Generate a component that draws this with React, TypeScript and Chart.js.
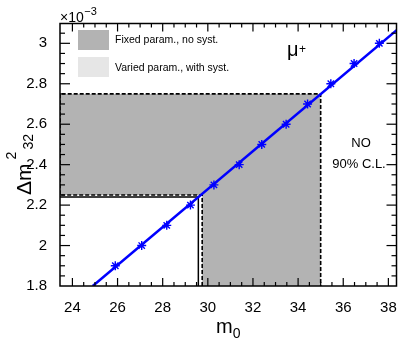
import React, { useEffect, useRef } from 'react';
import { Chart, registerables } from 'chart.js';

Chart.register(...registerables);

// ---- data (Δm² in units of 10^-3) ----
const m0Points = [25.9, 27.07, 28.18, 29.23, 30.27, 31.39, 32.39, 33.47, 34.42, 35.45, 36.48, 37.6];
const dm2Points = [1.9, 2.0, 2.1, 2.2, 2.3, 2.4, 2.5, 2.6, 2.7, 2.8, 2.9, 3.0];
const fitM0 = [24.9, 38.5];
const fitDm2 = [1.8, 3.078];

const xTickValues = [24, 26, 28, 30, 32, 34, 36, 38];
const xTickLabels = ['24', '26', '28', '30', '32', '34', '36', '38'];
const yTickValues = [1.8, 2.0, 2.2, 2.4, 2.6, 2.8, 3.0];
const yTickLabels = ['1.8', '2', '2.2', '2.4', '2.6', '2.8', '3'];
const xRange = [23.45, 38.36];
const yRange = [1.8, 3.098];

// Fixed param., no syst. (filled, dashed outline)
const fixedFillM0 = [23.45, 29.75, 29.75, 35.0];
const fixedFillLowDm2 = [2.25, 2.25, 1.8, 1.8];
const fixedFillTopDm2 = 2.75;
const fixedContourM0 = [29.75, 29.75, 23.45, 23.45, 35.0, 35.0];
const fixedContourDm2 = [1.8, 2.25, 2.25, 2.75, 2.75, 1.8];
// Varied param., with syst. (solid outline)
const variedContourM0 = [29.58, 29.58, 23.45];
const variedContourDm2 = [1.8, 2.24, 2.24];

const legendLabels = ['Fixed param., no syst.', 'Varied param., with syst.'];
const legendColors = ['#b3b3b3', '#e6e6e6'];

const FONT = '"Liberation Sans", Arial, Helvetica, sans-serif';

const zip = (xs: number[], ys: number[]) => xs.map((x, i) => ({ x, y: ys[i] }));

const decorPlugin = {
  id: 'decor',
  afterDatasetsDraw(chart: any) {
    const { ctx, chartArea: a, scales } = chart;
    const x = scales.x;
    const y = scales.y;
    ctx.save();
    ctx.strokeStyle = '#000';
    ctx.lineWidth = 1.2;
    const seg = (x1: number, y1: number, x2: number, y2: number) => {
      ctx.beginPath();
      ctx.moveTo(x1, y1);
      ctx.lineTo(x2, y2);
      ctx.stroke();
    };
    // x ticks
    for (let v = 23.5; v <= xRange[1] + 1e-9; v += 0.5) {
      const px = x.getPixelForValue(v);
      if (px < a.left + 2 || px > a.right - 2) continue;
      const major = Math.abs(v / 2 - Math.round(v / 2)) < 1e-6;
      const len = major ? 8 : 4;
      seg(px, a.bottom, px, a.bottom - len);
      seg(px, a.top, px, a.top + len);
    }
    // y ticks
    for (let i = 0; i <= 30; i++) {
      const v = 1.8 + i * 0.05;
      const py = y.getPixelForValue(v);
      if (py < a.top + 2 || py > a.bottom - 2) continue;
      const major = i % 4 === 0;
      const len = major ? 10 : 5;
      seg(a.left, py, a.left + len, py);
      seg(a.right, py, a.right - len, py);
    }
    ctx.lineWidth = 1.5;
    ctx.strokeRect(a.left, a.top, a.right - a.left, a.bottom - a.top);
    ctx.restore();
  },
  afterDraw(chart: any) {
    const { ctx, chartArea: a } = chart;
    ctx.save();
    ctx.fillStyle = '#000';
    ctx.textBaseline = 'alphabetic';
    ctx.textAlign = 'left';

    // exponent label
    ctx.font = `14px ${FONT}`;
    ctx.fillText('\u00d710', a.left, 22);
    const w10 = ctx.measureText('\u00d710').width;
    ctx.font = `11px ${FONT}`;
    ctx.fillText('\u22123', a.left + w10 + 0.5, 15);

    // legend
    legendLabels.forEach((lab, i) => {
      ctx.fillStyle = legendColors[i];
      ctx.fillRect(78, 30 + i * 27, 31, 20);
      ctx.fillStyle = '#000';
      ctx.font = `10.5px ${FONT}`;
      ctx.fillText(lab, 115, 42.5 + i * 28);
    });

    // mu+
    ctx.font = `20px ${FONT}`;
    ctx.fillText('\u03bc', 287, 56);
    ctx.font = `12px ${FONT}`;
    ctx.fillText('+', 299, 53);

    // NO / 90% C.L.
    ctx.textAlign = 'center';
    ctx.font = `13px ${FONT}`;
    ctx.fillText('NO', 361, 147);
    ctx.fillText('90% C.L.', 359, 168);

    // x title m0
    ctx.textAlign = 'left';
    ctx.font = `20px ${FONT}`;
    ctx.fillText('m', 216, 333);
    const wm = ctx.measureText('m').width;
    ctx.font = `14px ${FONT}`;
    ctx.fillText('0', 216 + wm, 338);

    // y title Δm²₃₂
    ctx.translate(31, 195);
    ctx.rotate(-Math.PI / 2);
    ctx.font = `21px ${FONT}`;
    ctx.fillText('\u0394m', 0, 0);
    const wd = ctx.measureText('\u0394m').width;
    ctx.font = `14px ${FONT}`;
    ctx.fillText('2', wd + 4, -15);
    ctx.fillText('32', wd + 14, 2);
    ctx.restore();
  },
};

export default function App() {
  const ref = useRef<HTMLCanvasElement>(null);
  useEffect(() => {
    const canvas = ref.current;
    if (!canvas) return;
    const chart = new Chart(canvas, {
      type: 'line',
      data: {
        datasets: [
          {
            label: 'fit',
            data: zip(fitM0, fitDm2),
            borderColor: '#0000ff',
            borderWidth: 2.5,
            pointRadius: 0,
            fill: false,
            order: 0,
          },
          {
            label: 'points',
            data: zip(m0Points, dm2Points),
            showLine: false,
            pointStyle: 'star',
            pointRadius: 4.5,
            pointBorderColor: '#0000ff',
            pointBackgroundColor: '#0000ff',
            pointBorderWidth: 1.4,
            order: 0,
          },
          {
            label: 'varied',
            data: zip(variedContourM0, variedContourDm2),
            borderColor: '#000',
            borderWidth: 1.5,
            pointRadius: 0,
            fill: false,
            order: 1,
          },
          {
            label: 'fixedBorder',
            data: zip(fixedContourM0, fixedContourDm2),
            borderColor: '#000',
            borderWidth: 1.6,
            borderDash: [4, 2],
            pointRadius: 0,
            fill: false,
            order: 1,
          },
          {
            label: 'fixedFill',
            data: zip(fixedFillM0, fixedFillLowDm2),
            borderWidth: 0,
            borderColor: 'rgba(0,0,0,0)',
            backgroundColor: legendColors[0],
            pointRadius: 0,
            fill: { value: fixedFillTopDm2 },
            order: 2,
          },
        ],
      },
      options: {
        animation: false,
        responsive: false,
        maintainAspectRatio: false,
        layout: { autoPadding: false, padding: { top: 23.5, right: 1.5, left: 0, bottom: 0 } },
        plugins: { legend: { display: false }, tooltip: { enabled: false }, title: { display: false } },
        elements: { line: { tension: 0 } },
        scales: {
          x: {
            type: 'linear',
            min: xRange[0],
            max: xRange[1],
            grid: { display: false },
            border: { display: false },
            afterBuildTicks: (s: any) => {
              s.ticks = xTickValues.map((v) => ({ value: v }));
            },
            afterFit: (s: any) => {
              s.height = 54;
              s.paddingLeft = 0;
              s.paddingRight = 0;
            },
            ticks: {
              padding: 5,
              color: '#000',
              font: { family: FONT, size: 15 },
              maxRotation: 0,
              autoSkip: false,
              callback: (_v: any, i: number) => xTickLabels[i],
            },
          },
          y: {
            type: 'linear',
            min: yRange[0],
            max: yRange[1],
            grid: { display: false },
            border: { display: false },
            afterBuildTicks: (s: any) => {
              s.ticks = yTickValues.map((v) => ({ value: v }));
            },
            afterFit: (s: any) => {
              s.width = 60;
              s.paddingTop = 0;
              s.paddingBottom = 0;
            },
            ticks: {
              padding: 5,
              color: '#000',
              font: { family: FONT, size: 15 },
              autoSkip: false,
              callback: (_v: any, i: number) => yTickLabels[i],
            },
          },
        },
      },
      plugins: [decorPlugin],
    } as any);
    return () => chart.destroy();
  }, []);
  return (
    <div style={{ position: 'fixed', left: 0, top: 0, width: 398, height: 340, background: '#fff' }}>
      <canvas ref={ref} width={398} height={340} style={{ display: 'block' }} />
    </div>
  );
}
